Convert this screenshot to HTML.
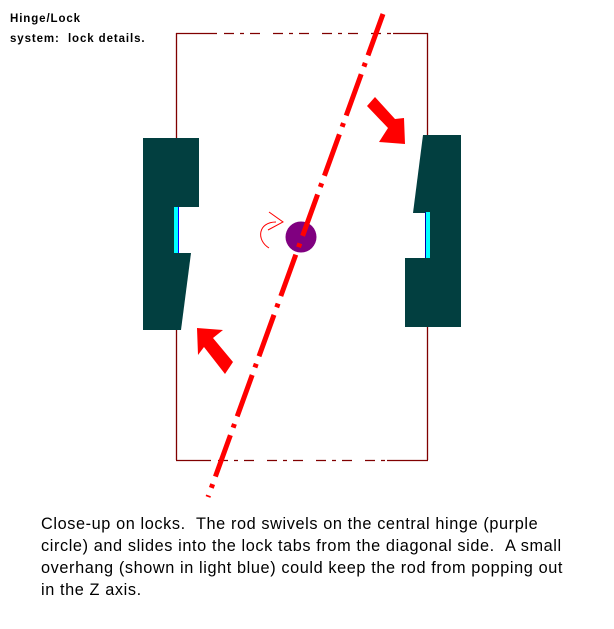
<!DOCTYPE html>
<html><head><style>
body{margin:0;background:#fff;width:614px;height:629px;overflow:hidden;position:relative;font-family:"Liberation Sans",Arial,sans-serif}
.t{position:absolute;left:10px;top:9px;font-size:11.5px;font-weight:bold;line-height:20px;color:#000;letter-spacing:0.9px}
.b{position:absolute;left:41px;top:513px;font-size:16.3px;line-height:22px;color:#000;white-space:nowrap;letter-spacing:0.6px}
</style></head><body>
<svg width="614" height="629" style="position:absolute;left:0;top:0">
<g stroke="#800000" stroke-width="1.3" fill="none">
<line x1="176.5" y1="33" x2="176.5" y2="460"/>
<line x1="427.5" y1="33" x2="427.5" y2="460"/>
<line x1="176" y1="33.5" x2="217" y2="33.5"/>
<line x1="393" y1="33.5" x2="428" y2="33.5"/>
<line x1="217" y1="33.5" x2="393" y2="33.5" stroke-dasharray="0 7 10 6 4 6 10 6"/>
<line x1="176" y1="460.5" x2="211" y2="460.5"/>
<line x1="387" y1="460.5" x2="428" y2="460.5"/>
<line x1="211" y1="460.5" x2="387" y2="460.5" stroke-dasharray="0 7 10 6 4 6 10 6"/>
</g>
<g fill="#023f40">
<rect x="143" y="138" width="56" height="69"/>
<rect x="143" y="206" width="32" height="48"/>
<polygon points="143,253 191,253 181,330 143,330"/>
<polygon points="423,135 461,135 461,213 413,213"/>
<rect x="429" y="211" width="32" height="48"/>
<rect x="405" y="258" width="56" height="69"/>
</g>
<rect x="174" y="207" width="4" height="46" fill="#00ffff"/>
<line x1="178.5" y1="207" x2="178.5" y2="253" stroke="#0000ff" stroke-width="1"/>
<rect x="426" y="212" width="4" height="46" fill="#00ffff"/>
<line x1="425.5" y1="212" x2="425.5" y2="258" stroke="#0000aa" stroke-width="1"/>
<circle cx="301" cy="237" r="15.5" fill="#800080"/>
<line x1="383" y1="14" x2="208" y2="497" stroke="#ff0000" stroke-width="5" stroke-dasharray="44 8 4 8"/>
<path d="M269,248 C256,240 258,222 276,222" stroke="#ff0000" stroke-width="1" fill="none"/>
<path d="M269,212 L283,222 L268,230" stroke="#ff0000" stroke-width="1" fill="none"/>
<polygon points="367,106 375,97 395,119 404,118 405,144 379,142 388,128" fill="#ff0000"/>
<polygon points="197,328 223,330 213,338 233,362 225,374 204,347 198,355" fill="#ff0000"/>
</svg>
<div class="t">Hinge/Lock<br>system: &nbsp;lock details.</div>
<div class="b">Close-up on locks. &nbsp;The rod swivels on the central hinge (purple<br>circle) and slides into the lock tabs from the diagonal side. &nbsp;A small<br>overhang (shown in light blue) could keep the rod from popping out<br>in the Z axis.</div>
</body></html>
